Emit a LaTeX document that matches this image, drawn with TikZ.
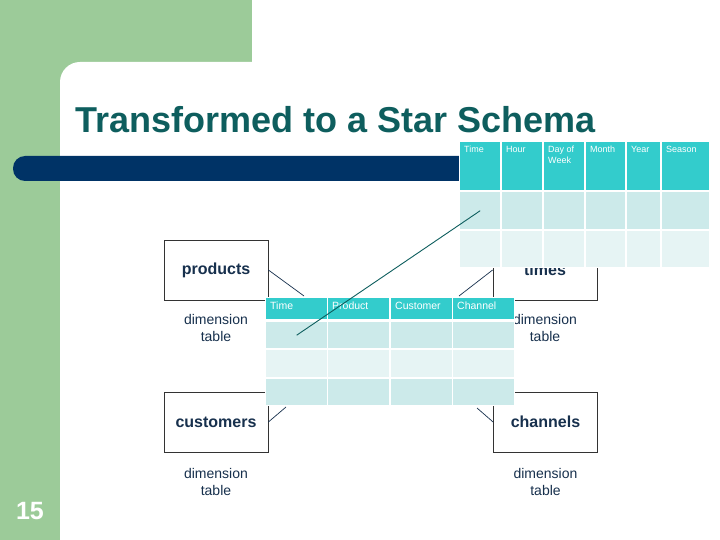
\documentclass[tikz,border=0pt]{standalone}
\usepackage{fontspec}
\setmainfont{Liberation Sans}
\usetikzlibrary{positioning}
\usepackage{xcolor}
\definecolor{slidegreen}{HTML}{9CCB99}
\definecolor{slidenavy}{HTML}{003366}
\definecolor{titleteal}{HTML}{0E5E5E}
\definecolor{inkblue}{HTML}{17304D}
\definecolor{headteal}{HTML}{33CCCC}
\definecolor{rowdark}{HTML}{CCEAEA}
\definecolor{rowlight}{HTML}{E6F4F4}

\begin{document}
\begin{tikzpicture}[x=1pt, y=-1pt,
    dimbox/.style={rectangle, draw=black!80, line width=0.8pt, fill=white,
                   minimum width=104pt, minimum height=60pt,
                   font=\fontsize{16}{19}\selectfont\bfseries,
                   text=inkblue, align=center},
    dimlbl/.style={font=\fontsize{14}{17}\selectfont, text=inkblue,
                   align=center, inner sep=0pt},
    cell/.style={rectangle, anchor=north west, inner sep=0pt},
    hdtxt/.style={text=white, align=left, inner sep=4pt, anchor=north west},
    link/.style={draw=inkblue, line width=0.7pt}
  ]
    \useasboundingbox (0,0) rectangle (720,540);
    \fill[slidegreen] (0,0) rectangle (252,82);
    \fill[slidegreen] (0,0) rectangle (80,540);
    \fill[white, rounded corners=20pt] (60,62) rectangle (760,580);
    \fill[slidenavy, rounded corners=12pt] (13,156) rectangle (480,181);

    \node[anchor=base west, inner sep=0pt, text=titleteal,
          font=\fontsize{36}{40}\selectfont\bfseries] (title) at (75,133)
          {Transformed to a Star Schema};
    \node[anchor=base, inner sep=0pt, text=white,
          font=\fontsize{25}{28}\selectfont\bfseries] (pagenum) at (30,519) {15};

    \node[dimbox] (prod) at (216,270) {products};
    \node[dimbox] (times) at (545,270) {times};
    \node[dimbox] (cust) at (216,422) {customers};
    \node[dimbox] (chan) at (545.5,422) {channels};
    \node[dimlbl, below=14pt of prod] (prodlbl) {dimension\\table};
    \node[dimlbl, below=14pt of times] (timeslbl) {dimension\\table};
    \node[dimlbl, below=16pt of cust] (custlbl) {dimension\\table};
    \node[dimlbl, below=16pt of chan] (chanlbl) {dimension\\table};

    \coordinate (fact-prod) at (304,296);
    \coordinate (fact-time) at (459,296);
    \coordinate (fact-cust) at (286,407);
    \coordinate (fact-chan) at (477,408);
    \draw[link] (prod.east) -- (fact-prod);
    \draw[link] (times.west) -- (fact-time);
    \draw[link] (cust.east) -- (fact-cust);
    \draw[link] (chan.west) -- (fact-chan);

    \fill[white] (459,141) rectangle (710,268);
    \foreach \cx/\w/\nm [count=\i] in {460/40/Time, 502/40/Hour,
        544/40/{Day of\\Week}, 586/39/Month, 627/33/Year, 662/47/Season} {
      \node[cell, fill=headteal, minimum width=\w pt, minimum height=48pt,
            label={[hdtxt, font=\fontsize{9}{11}\selectfont]north west:\nm}]
            (t\i-1) at (\cx,142) {};
      \node[cell, fill=rowdark, minimum width=\w pt, minimum height=37pt]
            (t\i-2) at (\cx,192) {};
      \node[cell, fill=rowlight, minimum width=\w pt, minimum height=36pt]
            (t\i-3) at (\cx,231) {};
    }

    \fill[white] (265,297) rectangle (515,406);
    \foreach \cx/\nm [count=\i] in {266/Time, 328/Product, 391/Customer, 453/Channel} {
      \node[cell, fill=headteal, minimum width=61pt, minimum height=21pt,
            label={[hdtxt, font=\fontsize{10.5}{12}\selectfont]north west:\nm}]
            (f\i-1) at (\cx,298) {};
      \node[cell, fill=rowdark, minimum width=61pt, minimum height=26pt]
            (f\i-2) at (\cx,322) {};
      \node[cell, fill=rowlight, minimum width=61pt, minimum height=27pt]
            (f\i-3) at (\cx,350) {};
      \node[cell, fill=rowdark, minimum width=61pt, minimum height=26pt]
            (f\i-4) at (\cx,379) {};
    }

    \draw[titleteal, line width=0.9pt] (f1-2.center) -- (t1-2.center);
  \end{tikzpicture}
\end{document}
